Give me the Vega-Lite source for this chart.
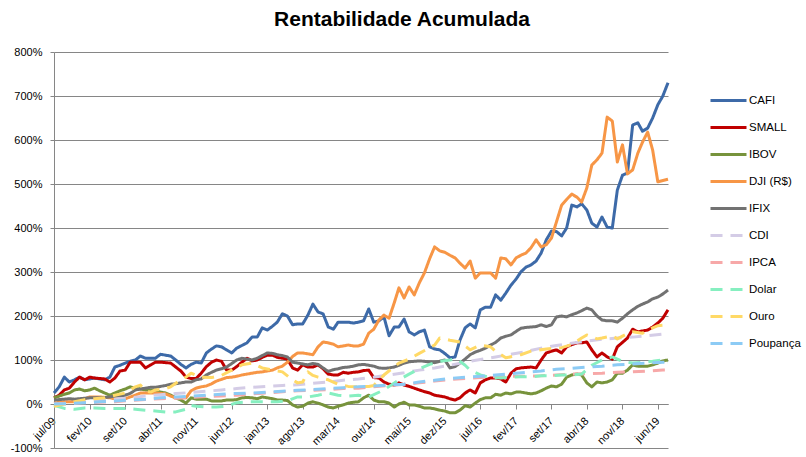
{
"$schema": "https://vega.github.io/schema/vega-lite/v6.json",
"autosize": {"type": "none"},
"width": 614,
"height": 396,
"padding": {"left": 54, "top": 52, "right": 138, "bottom": 9},
"background": "white",
"title": {"text": "Rentabilidade Acumulada", "font": "Liberation Sans", "fontSize": 21, "fontWeight": "bold", "color": "#000000", "anchor": "middle", "frame": "group", "dx": 41, "offset": 16},
"data": {"values": [
{"d":"2009/07/01","CAFI":25,"SMALL":14,"IBOV":14,"DJI (R$)":2,"IFIX":9,"CDI":0,"IPCA":0,"Dolar":-3,"Ouro":-5,"Poupança":0},
{"d":"2009/08/01","CAFI":39,"SMALL":20,"IBOV":18,"DJI (R$)":4,"IFIX":10},
{"d":"2009/09/01","CAFI":61,"SMALL":32,"IBOV":22,"DJI (R$)":5,"IFIX":11,"Dolar":-10,"Ouro":0},
{"d":"2009/10/01","CAFI":50,"SMALL":36,"IBOV":25,"DJI (R$)":5,"IFIX":12,"CDI":2,"IPCA":1,"Poupança":1},
{"d":"2009/11/01","CAFI":55,"SMALL":50,"IBOV":32,"DJI (R$)":5,"IFIX":11,"Dolar":-12,"Ouro":5},
{"d":"2009/12/01","CAFI":61,"SMALL":61,"IBOV":34,"DJI (R$)":9,"IFIX":12},
{"d":"2010/01/01","CAFI":55,"SMALL":55,"IBOV":30,"DJI (R$)":12,"IFIX":13,"CDI":5,"IPCA":3,"Poupança":3,"Dolar":-9,"Ouro":10},
{"d":"2010/02/01","CAFI":57,"SMALL":61,"IBOV":32,"DJI (R$)":16,"IFIX":14},
{"d":"2010/03/01","CAFI":59,"SMALL":59,"IBOV":36,"DJI (R$)":16,"IFIX":14,"Dolar":-9,"Ouro":12},
{"d":"2010/04/01","CAFI":57,"SMALL":58,"IBOV":30,"DJI (R$)":16,"IFIX":14,"CDI":8,"IPCA":4,"Poupança":5},
{"d":"2010/05/01","CAFI":55,"SMALL":57,"IBOV":25,"DJI (R$)":15,"IFIX":15,"Dolar":-10,"Ouro":14},
{"d":"2010/06/01","CAFI":61,"SMALL":50,"IBOV":20,"DJI (R$)":14,"IFIX":16},
{"d":"2010/07/01","CAFI":84,"SMALL":59,"IBOV":25,"DJI (R$)":12,"IFIX":18,"CDI":11,"IPCA":5,"Poupança":7,"Dolar":-10,"Ouro":20},
{"d":"2010/08/01","CAFI":88,"SMALL":75,"IBOV":30,"DJI (R$)":9,"IFIX":18},
{"d":"2010/09/01","CAFI":93,"SMALL":77,"IBOV":34,"DJI (R$)":12,"IFIX":20,"Dolar":-10,"Ouro":25},
{"d":"2010/10/01","CAFI":97,"SMALL":95,"IBOV":39,"DJI (R$)":16,"IFIX":24,"CDI":14,"IPCA":8,"Poupança":9},
{"d":"2010/11/01","CAFI":100,"SMALL":95,"IBOV":36,"DJI (R$)":20,"IFIX":32,"Dolar":-12,"Ouro":39},
{"d":"2010/12/01","CAFI":109,"SMALL":95,"IBOV":34,"DJI (R$)":25,"IFIX":34,"Ouro":43},
{"d":"2011/01/01","CAFI":104,"SMALL":82,"IBOV":32,"DJI (R$)":25,"IFIX":36,"CDI":18,"IPCA":10,"Poupança":11,"Dolar":-14,"Ouro":30},
{"d":"2011/02/01","CAFI":104,"SMALL":89,"IBOV":32,"DJI (R$)":25,"IFIX":38,"Ouro":27},
{"d":"2011/03/01","CAFI":104,"SMALL":95,"IBOV":32,"DJI (R$)":25,"IFIX":38,"Dolar":-16,"Ouro":32},
{"d":"2011/04/01","CAFI":113,"SMALL":95,"IBOV":27,"DJI (R$)":24,"IFIX":40,"CDI":21,"IPCA":12,"Poupança":14},
{"d":"2011/05/01","CAFI":111,"SMALL":94,"IBOV":25,"DJI (R$)":23,"IFIX":42,"Dolar":-18,"Ouro":35},
{"d":"2011/06/01","CAFI":109,"SMALL":93,"IBOV":20,"DJI (R$)":18,"IFIX":45,"Ouro":39},
{"d":"2011/07/01","CAFI":100,"SMALL":84,"IBOV":14,"DJI (R$)":14,"IFIX":46,"CDI":24,"IPCA":13,"Poupança":16,"Dolar":-18},
{"d":"2011/08/01","CAFI":90,"SMALL":75,"IBOV":9,"DJI (R$)":14,"IFIX":48,"Ouro":55},
{"d":"2011/09/01","CAFI":82,"SMALL":61,"IBOV":2,"DJI (R$)":14,"IFIX":50,"Dolar":-12,"Ouro":61},
{"d":"2011/10/01","CAFI":90,"SMALL":58,"IBOV":14,"DJI (R$)":30,"IFIX":50,"CDI":26,"IPCA":15,"Poupança":18,"Dolar":-3,"Ouro":70},
{"d":"2011/11/01","CAFI":95,"SMALL":58,"IBOV":11,"DJI (R$)":36,"IFIX":55,"Dolar":-5,"Ouro":65},
{"d":"2011/12/01","CAFI":93,"SMALL":70,"IBOV":11,"DJI (R$)":39,"IFIX":57,"Ouro":61},
{"d":"2012/01/01","CAFI":116,"SMALL":85,"IBOV":11,"DJI (R$)":41,"IFIX":66,"CDI":29,"IPCA":17,"Poupança":20,"Dolar":-7},
{"d":"2012/02/01","CAFI":125,"SMALL":95,"IBOV":7,"DJI (R$)":46,"IFIX":72,"Ouro":60},
{"d":"2012/03/01","CAFI":132,"SMALL":100,"IBOV":7,"DJI (R$)":52,"IFIX":77,"Dolar":-7},
{"d":"2012/04/01","CAFI":130,"SMALL":97,"IBOV":7,"DJI (R$)":56,"IFIX":80,"CDI":32,"IPCA":18,"Poupança":22,"Ouro":65},
{"d":"2012/05/01","CAFI":123,"SMALL":77,"IBOV":9,"DJI (R$)":60,"IFIX":84,"Dolar":-5},
{"d":"2012/06/01","CAFI":116,"SMALL":77,"IBOV":9,"DJI (R$)":61,"IFIX":92,"Ouro":77},
{"d":"2012/07/01","CAFI":127,"SMALL":85,"IBOV":10,"DJI (R$)":63,"IFIX":100,"CDI":35,"IPCA":20,"Poupança":24,"Dolar":3},
{"d":"2012/08/01","CAFI":133,"SMALL":95,"IBOV":14,"DJI (R$)":66,"IFIX":104,"Ouro":89},
{"d":"2012/09/01","CAFI":139,"SMALL":104,"IBOV":15,"DJI (R$)":68,"IFIX":102,"Dolar":5},
{"d":"2012/10/01","CAFI":152,"SMALL":98,"IBOV":14,"DJI (R$)":70,"IFIX":100,"CDI":38,"IPCA":23,"Poupança":25,"Ouro":93},
{"d":"2012/11/01","CAFI":152,"SMALL":100,"IBOV":12,"DJI (R$)":72,"IFIX":104,"Dolar":5},
{"d":"2012/12/01","CAFI":173,"SMALL":106,"IBOV":16,"DJI (R$)":73,"IFIX":110,"Ouro":82},
{"d":"2013/01/01","CAFI":168,"SMALL":111,"IBOV":14,"DJI (R$)":75,"IFIX":116,"CDI":40,"IPCA":25,"Poupança":27,"Dolar":5},
{"d":"2013/02/01","CAFI":177,"SMALL":111,"IBOV":12,"DJI (R$)":77,"IFIX":115,"Ouro":77},
{"d":"2013/03/01","CAFI":186,"SMALL":106,"IBOV":9,"DJI (R$)":82,"IFIX":112,"Dolar":5},
{"d":"2013/04/01","CAFI":205,"SMALL":104,"IBOV":9,"DJI (R$)":86,"IFIX":110,"CDI":42,"IPCA":28,"Poupança":29,"Ouro":73},
{"d":"2013/05/01","CAFI":200,"SMALL":102,"IBOV":8,"DJI (R$)":95,"IFIX":107,"Dolar":7},
{"d":"2013/06/01","CAFI":180,"SMALL":82,"IBOV":-2,"DJI (R$)":108,"IFIX":95,"Ouro":55},
{"d":"2013/07/01","CAFI":182,"SMALL":77,"IBOV":-7,"DJI (R$)":116,"IFIX":93,"CDI":44,"IPCA":30,"Poupança":31,"Dolar":16,"Ouro":48},
{"d":"2013/08/01","CAFI":182,"SMALL":89,"IBOV":-5,"DJI (R$)":116,"IFIX":91,"Ouro":50},
{"d":"2013/09/01","CAFI":202,"SMALL":84,"IBOV":2,"DJI (R$)":114,"IFIX":89,"Dolar":16,"Ouro":73},
{"d":"2013/10/01","CAFI":227,"SMALL":84,"IBOV":5,"DJI (R$)":112,"IFIX":92,"CDI":47,"IPCA":31,"Poupança":33,"Ouro":65},
{"d":"2013/11/01","CAFI":209,"SMALL":89,"IBOV":2,"DJI (R$)":130,"IFIX":90,"Dolar":20,"Ouro":61},
{"d":"2013/12/01","CAFI":205,"SMALL":80,"IBOV":-2,"DJI (R$)":141,"IFIX":82},
{"d":"2014/01/01","CAFI":175,"SMALL":68,"IBOV":-7,"DJI (R$)":139,"IFIX":74,"CDI":50,"IPCA":33,"Poupança":35,"Dolar":25,"Ouro":55},
{"d":"2014/02/01","CAFI":170,"SMALL":66,"IBOV":-9,"DJI (R$)":136,"IFIX":78},
{"d":"2014/03/01","CAFI":186,"SMALL":66,"IBOV":-5,"DJI (R$)":130,"IFIX":80,"Dolar":20,"Ouro":45},
{"d":"2014/04/01","CAFI":186,"SMALL":72,"IBOV":-2,"DJI (R$)":132,"IFIX":83,"CDI":54,"IPCA":35,"Poupança":37},
{"d":"2014/05/01","CAFI":186,"SMALL":70,"IBOV":2,"DJI (R$)":134,"IFIX":84,"Dolar":18,"Ouro":40},
{"d":"2014/06/01","CAFI":184,"SMALL":72,"IBOV":4,"DJI (R$)":132,"IFIX":86},
{"d":"2014/07/01","CAFI":186,"SMALL":73,"IBOV":5,"DJI (R$)":132,"IFIX":89,"CDI":57,"IPCA":36,"Poupança":39,"Dolar":20,"Ouro":39},
{"d":"2014/08/01","CAFI":189,"SMALL":76,"IBOV":14,"DJI (R$)":136,"IFIX":90},
{"d":"2014/09/01","CAFI":216,"SMALL":77,"IBOV":20,"DJI (R$)":161,"IFIX":88,"Dolar":16,"Ouro":40},
{"d":"2014/10/01","CAFI":186,"SMALL":60,"IBOV":9,"DJI (R$)":170,"IFIX":86,"CDI":61,"IPCA":39,"Poupança":41,"Ouro":42},
{"d":"2014/11/01","CAFI":189,"SMALL":59,"IBOV":5,"DJI (R$)":191,"IFIX":82},
{"d":"2014/12/01","CAFI":198,"SMALL":50,"IBOV":5,"DJI (R$)":202,"IFIX":81,"Dolar":32,"Ouro":66},
{"d":"2015/01/01","CAFI":155,"SMALL":45,"IBOV":2,"DJI (R$)":195,"IFIX":82,"CDI":66,"IPCA":42,"Poupança":43},
{"d":"2015/02/01","CAFI":175,"SMALL":43,"IBOV":-7,"DJI (R$)":230,"IFIX":84},
{"d":"2015/03/01","CAFI":175,"SMALL":48,"IBOV":0,"DJI (R$)":264,"IFIX":88,"Dolar":55,"Ouro":93},
{"d":"2015/04/01","CAFI":193,"SMALL":43,"IBOV":4,"DJI (R$)":241,"IFIX":93,"CDI":71,"IPCA":45,"Poupança":45},
{"d":"2015/05/01","CAFI":164,"SMALL":40,"IBOV":-2,"DJI (R$)":266,"IFIX":96,"Dolar":68,"Ouro":102},
{"d":"2015/06/01","CAFI":157,"SMALL":36,"IBOV":-2,"DJI (R$)":248,"IFIX":97},
{"d":"2015/07/01","CAFI":164,"SMALL":32,"IBOV":-5,"DJI (R$)":275,"IFIX":98,"CDI":77,"IPCA":48,"Poupança":50,"Dolar":80,"Ouro":115},
{"d":"2015/08/01","CAFI":168,"SMALL":28,"IBOV":-9,"DJI (R$)":298,"IFIX":97},
{"d":"2015/09/01","CAFI":130,"SMALL":25,"IBOV":-9,"DJI (R$)":330,"IFIX":95,"Dolar":90},
{"d":"2015/10/01","CAFI":125,"SMALL":20,"IBOV":-11,"DJI (R$)":357,"IFIX":94,"CDI":82,"IPCA":52,"Poupança":54,"Ouro":134},
{"d":"2015/11/01","CAFI":123,"SMALL":18,"IBOV":-14,"DJI (R$)":348,"IFIX":97,"Dolar":97,"Ouro":150},
{"d":"2015/12/01","CAFI":115,"SMALL":16,"IBOV":-16,"DJI (R$)":345,"IFIX":100},
{"d":"2016/01/01","CAFI":105,"SMALL":12,"IBOV":-20,"DJI (R$)":338,"IFIX":82,"CDI":88,"IPCA":56,"Poupança":58,"Dolar":100,"Ouro":145},
{"d":"2016/02/01","CAFI":107,"SMALL":9,"IBOV":-20,"DJI (R$)":332,"IFIX":85,"Dolar":103},
{"d":"2016/03/01","CAFI":145,"SMALL":14,"IBOV":-14,"DJI (R$)":320,"IFIX":93,"Dolar":97,"Ouro":141},
{"d":"2016/04/01","CAFI":173,"SMALL":25,"IBOV":-4,"DJI (R$)":309,"IFIX":102,"CDI":95,"IPCA":58,"Poupança":61,"Dolar":88},
{"d":"2016/05/01","CAFI":182,"SMALL":32,"IBOV":-7,"DJI (R$)":325,"IFIX":112,"Dolar":77,"Ouro":123},
{"d":"2016/06/01","CAFI":173,"SMALL":25,"IBOV":2,"DJI (R$)":286,"IFIX":118},
{"d":"2016/07/01","CAFI":214,"SMALL":48,"IBOV":10,"DJI (R$)":298,"IFIX":122,"CDI":101,"IPCA":60,"Poupança":63,"Dolar":66,"Ouro":134},
{"d":"2016/08/01","CAFI":220,"SMALL":55,"IBOV":14,"DJI (R$)":298,"IFIX":127},
{"d":"2016/09/01","CAFI":220,"SMALL":59,"IBOV":14,"DJI (R$)":298,"IFIX":134,"Dolar":60,"Ouro":130},
{"d":"2016/10/01","CAFI":248,"SMALL":59,"IBOV":22,"DJI (R$)":286,"IFIX":140,"CDI":107,"IPCA":62,"Poupança":66,"Ouro":120},
{"d":"2016/11/01","CAFI":236,"SMALL":57,"IBOV":20,"DJI (R$)":332,"IFIX":150,"Dolar":59},
{"d":"2016/12/01","CAFI":252,"SMALL":50,"IBOV":25,"DJI (R$)":330,"IFIX":154,"Ouro":105},
{"d":"2017/01/01","CAFI":270,"SMALL":70,"IBOV":23,"DJI (R$)":316,"IFIX":157,"CDI":113,"IPCA":63,"Poupança":69,"Dolar":61},
{"d":"2017/02/01","CAFI":284,"SMALL":80,"IBOV":27,"DJI (R$)":332,"IFIX":165},
{"d":"2017/03/01","CAFI":300,"SMALL":82,"IBOV":27,"DJI (R$)":338,"IFIX":172,"Dolar":62,"Ouro":112},
{"d":"2017/04/01","CAFI":311,"SMALL":83,"IBOV":25,"DJI (R$)":343,"IFIX":174,"CDI":119,"IPCA":63,"Poupança":72},
{"d":"2017/05/01","CAFI":316,"SMALL":84,"IBOV":23,"DJI (R$)":355,"IFIX":175,"Dolar":62,"Ouro":120},
{"d":"2017/06/01","CAFI":325,"SMALL":82,"IBOV":25,"DJI (R$)":373,"IFIX":176},
{"d":"2017/07/01","CAFI":343,"SMALL":100,"IBOV":30,"DJI (R$)":357,"IFIX":180,"CDI":127,"IPCA":64,"Poupança":75,"Dolar":64},
{"d":"2017/08/01","CAFI":373,"SMALL":116,"IBOV":36,"DJI (R$)":362,"IFIX":176,"Ouro":125},
{"d":"2017/09/01","CAFI":393,"SMALL":120,"IBOV":41,"DJI (R$)":377,"IFIX":180,"Dolar":64},
{"d":"2017/10/01","CAFI":392,"SMALL":123,"IBOV":39,"DJI (R$)":414,"IFIX":198,"CDI":133,"IPCA":66,"Poupança":79},
{"d":"2017/11/01","CAFI":382,"SMALL":116,"IBOV":45,"DJI (R$)":452,"IFIX":200,"Dolar":66,"Ouro":128},
{"d":"2017/12/01","CAFI":400,"SMALL":130,"IBOV":61,"DJI (R$)":465,"IFIX":198},
{"d":"2018/01/01","CAFI":452,"SMALL":135,"IBOV":66,"DJI (R$)":477,"IFIX":203,"CDI":138,"IPCA":68,"Poupança":81,"Dolar":66,"Ouro":135},
{"d":"2018/02/01","CAFI":448,"SMALL":139,"IBOV":68,"DJI (R$)":470,"IFIX":207},
{"d":"2018/03/01","CAFI":455,"SMALL":139,"IBOV":66,"DJI (R$)":459,"IFIX":212,"Dolar":68,"Ouro":150},
{"d":"2018/04/01","CAFI":441,"SMALL":141,"IBOV":48,"DJI (R$)":491,"IFIX":218,"CDI":143,"IPCA":69,"Poupança":84,"Ouro":157},
{"d":"2018/05/01","CAFI":411,"SMALL":123,"IBOV":39,"DJI (R$)":543,"IFIX":214,"Dolar":88},
{"d":"2018/06/01","CAFI":402,"SMALL":107,"IBOV":50,"DJI (R$)":555,"IFIX":200,"Ouro":148},
{"d":"2018/07/01","CAFI":425,"SMALL":116,"IBOV":48,"DJI (R$)":570,"IFIX":191,"CDI":147,"IPCA":70,"Poupança":86,"Dolar":100,"Ouro":150},
{"d":"2018/08/01","CAFI":402,"SMALL":107,"IBOV":50,"DJI (R$)":652,"IFIX":189},
{"d":"2018/09/01","CAFI":400,"SMALL":102,"IBOV":55,"DJI (R$)":643,"IFIX":189,"Dolar":107,"Ouro":155},
{"d":"2018/10/01","CAFI":486,"SMALL":130,"IBOV":70,"DJI (R$)":550,"IFIX":186,"CDI":150,"IPCA":72,"Poupança":89,"Ouro":148},
{"d":"2018/11/01","CAFI":520,"SMALL":140,"IBOV":70,"DJI (R$)":589,"IFIX":195,"Dolar":97},
{"d":"2018/12/01","CAFI":525,"SMALL":150,"IBOV":77,"DJI (R$)":523,"IFIX":205,"Ouro":160},
{"d":"2019/01/01","CAFI":634,"SMALL":170,"IBOV":89,"DJI (R$)":532,"IFIX":214,"CDI":152,"IPCA":73,"Poupança":91,"Dolar":93,"Ouro":164},
{"d":"2019/02/01","CAFI":639,"SMALL":164,"IBOV":86,"DJI (R$)":570,"IFIX":222},
{"d":"2019/03/01","CAFI":620,"SMALL":166,"IBOV":86,"DJI (R$)":595,"IFIX":227,"Dolar":95,"Ouro":161},
{"d":"2019/04/01","CAFI":627,"SMALL":168,"IBOV":86,"DJI (R$)":618,"IFIX":232,"CDI":155,"IPCA":75,"Poupança":93},
{"d":"2019/05/01","CAFI":650,"SMALL":175,"IBOV":89,"DJI (R$)":577,"IFIX":239,"Dolar":97,"Ouro":173},
{"d":"2019/06/01","CAFI":680,"SMALL":184,"IBOV":93,"DJI (R$)":505,"IFIX":243,"Ouro":178},
{"d":"2019/07/01","CAFI":700,"SMALL":195,"IBOV":98,"DJI (R$)":508,"IFIX":250,"CDI":159,"IPCA":77,"Poupança":95,"Dolar":100},
{"d":"2019/08/01","CAFI":730,"SMALL":214,"IBOV":100,"DJI (R$)":511,"IFIX":259,"CDI":160,"IPCA":77,"Poupança":95,"Dolar":95,"Ouro":180}
]},
"transform": [
{"fold": ["CAFI","SMALL","IBOV","DJI (R$)","IFIX","CDI","IPCA","Dolar","Ouro","Poupança"], "as": ["serie","valor"]},
{"filter": "isValid(datum.valor)"}
],
"mark": {"type": "line", "strokeWidth": 3, "strokeJoin": "round", "strokeCap": "butt"},
"encoding": {
"x": {"field": "d", "type": "temporal",
 "scale": {"domain": [{"year":2009,"month":7,"date":1},{"year":2019,"month":8,"date":1}]},
 "axis": {"title": null, "grid": false, "offset": -44,
  "values": [{"year":2009,"month":7,"date":1},{"year":2010,"month":2,"date":1},{"year":2010,"month":9,"date":1},{"year":2011,"month":4,"date":1},{"year":2011,"month":11,"date":1},{"year":2012,"month":6,"date":1},{"year":2013,"month":1,"date":1},{"year":2013,"month":8,"date":1},{"year":2014,"month":3,"date":1},{"year":2014,"month":10,"date":1},{"year":2015,"month":5,"date":1},{"year":2015,"month":12,"date":1},{"year":2016,"month":7,"date":1},{"year":2017,"month":2,"date":1},{"year":2017,"month":9,"date":1},{"year":2018,"month":4,"date":1},{"year":2018,"month":11,"date":1},{"year":2019,"month":6,"date":1}],
  "labelExpr": "['jan','fev','mar','abr','mai','jun','jul','ago','set','out','nov','dez'][month(datum.value)] + '/' + timeFormat(datum.value, '%y')",
  "labelAngle": -45, "labelAlign": "right", "labelBaseline": "middle",
  "labelFont": "Liberation Sans", "labelFontSize": 11, "labelColor": "#000000",
  "labelOverlap": false, "labelFlush": false, "labelPadding": 10,
  "domainColor": "#868686", "tickColor": "#868686", "tickSize": 5}},
"y": {"field": "valor", "type": "quantitative",
 "scale": {"domain": [-100, 800], "nice": false, "zero": false},
 "axis": {"title": null, "values": [-100,0,100,200,300,400,500,600,700,800],
  "labelExpr": "datum.value + '%'", "grid": true, "gridColor": "#868686",
  "domainColor": "#868686", "tickColor": "#868686", "tickSize": 4, "labelPadding": 8,
  "labelFont": "Liberation Sans", "labelFontSize": 11, "labelColor": "#000000"}},
"color": {"field": "serie", "type": "nominal",
 "scale": {"domain": ["CAFI","SMALL","IBOV","DJI (R$)","IFIX","CDI","IPCA","Dolar","Ouro","Poupança"],
  "range": ["#3D6AA8","#C00000","#77933C","#F79646","#727272","#D4CCE6","#F7A8A8","#86EFC0","#FFD966","#8CCBF5"]},
 "legend": {"title": null, "orient": "none", "legendX": 663, "legendY": 37, "padding": 0,
  "symbolType": "M-1.8,0H1.8", "symbolSize": 400, "symbolStrokeWidth": 3,
  "labelFont": "Liberation Sans", "labelFontSize": 11.5, "labelColor": "#000000",
  "rowPadding": 9, "labelOffset": 9}},
"strokeDash": {"field": "serie", "type": "nominal",
 "scale": {"domain": ["CAFI","SMALL","IBOV","DJI (R$)","IFIX","CDI","IPCA","Dolar","Ouro","Poupança"],
  "range": [[1,0],[1,0],[1,0],[1,0],[1,0],[12,8],[12,8],[12,8],[12,8],[12,8]]},
 "legend": {"title": null, "orient": "none", "legendX": 663, "legendY": 37, "padding": 0,
  "symbolType": "M-1.8,0H1.8", "symbolSize": 400, "symbolStrokeWidth": 3,
  "labelFont": "Liberation Sans", "labelFontSize": 11.5, "labelColor": "#000000",
  "rowPadding": 9, "labelOffset": 9}}
},
"config": {"view": {"stroke": null}}
}
